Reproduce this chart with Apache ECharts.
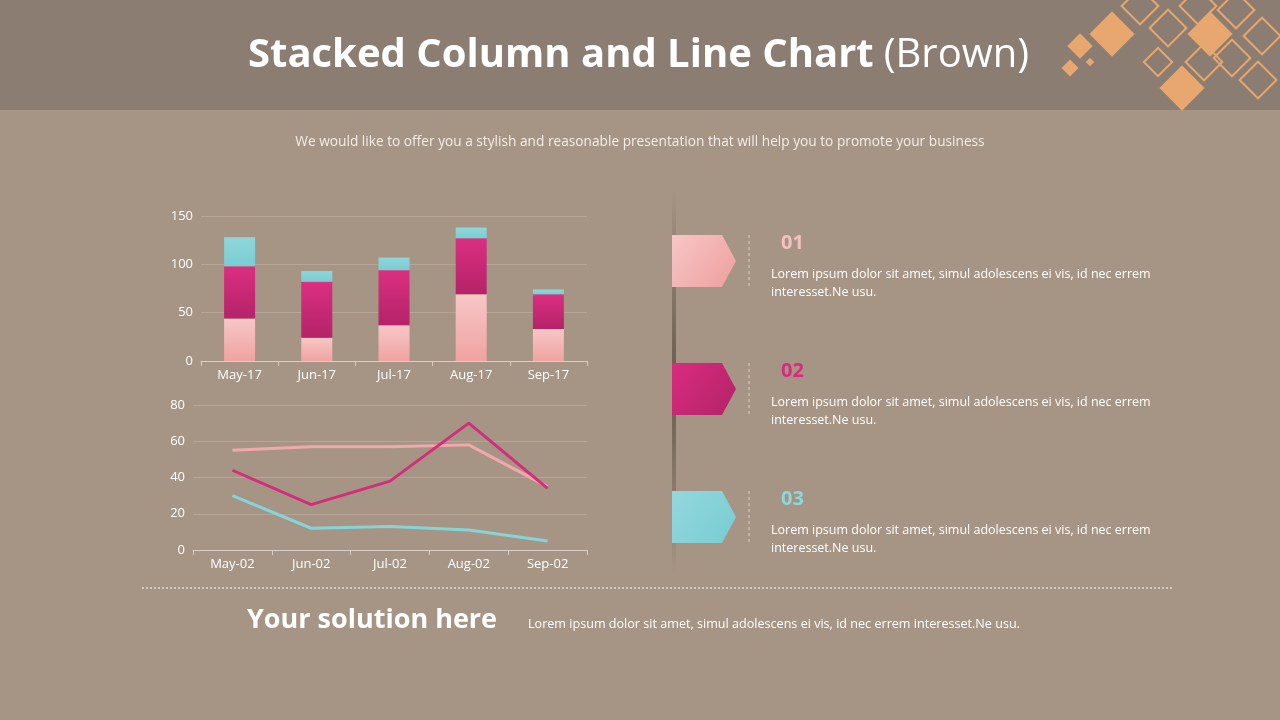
<!DOCTYPE html>
<html>
<head>
<meta charset="utf-8">
<script src="https://cdn.jsdelivr.net/npm/echarts@6/dist/echarts.min.js"></script>
<style>
html,body{margin:0;padding:0;background:#a69585;}
#main{width:1280px;height:720px;}
</style>
</head>
<body>
<div id="main"></div>
<script>
// column chart data
var barMonths = ["May-17", "Jun-17", "Jul-17", "Aug-17", "Sep-17"];
var barPink = [44, 24, 37, 69, 33];
var barMagenta = [54, 58, 57, 58, 36];
var barCyan = [30, 11, 13, 11, 5];
// line chart data
var lineMonths = ["May-02", "Jun-02", "Jul-02", "Aug-02", "Sep-02"];
var linePink = [55, 57, 57, 58, 35];
var lineMagenta = [44, 25, 38, 70, 34];
var lineCyan = [30, 12, 13, 11, 5];

var pinkGrad = new echarts.graphic.LinearGradient(0, 0, 0, 1, [{offset: 0, color: "#f7c7c6"}, {offset: 1, color: "#efa3a2"}]);
var magGrad = new echarts.graphic.LinearGradient(0, 0, 0, 1, [{offset: 0, color: "#db2f82"}, {offset: 1, color: "#b42368"}]);
var cyanGrad = new echarts.graphic.LinearGradient(0, 0, 0, 1, [{offset: 0, color: "#8fd6db"}, {offset: 1, color: "#79cdd3"}]);

var axisText = {color: "#ffffff", fontSize: 13, fontFamily: "Open Sans"};
var lorem = "Lorem ipsum dolor sit amet, simul adolescens ei vis, id nec errem\ninteresset.Ne usu.";

function diamond(cx, cy, s, fill) {
  return {
    type: "rect", x: cx, y: cy, rotation: Math.PI / 4, originX: 0, originY: 0,
    shape: {x: -s / 2, y: -s / 2, width: s, height: s},
    style: fill ? {fill: "#e8a76e"} : {fill: "none", stroke: "#e8a76e", lineWidth: 2}
  };
}

function tag(y, c1, c2, num, numColor) {
  return [
    {type: "polygon", shape: {points: [[672, y], [722, y], [736, y + 26], [722, y + 52], [672, y + 52]]},
      style: {fill: new echarts.graphic.LinearGradient(0, 0, 1, 1, [{offset: 0, color: c1}, {offset: 1, color: c2}])}},
    {type: "line", shape: {x1: 749, y1: y, x2: 749, y2: y + 52}, style: {stroke: "#d9cfc6", lineDash: [3, 3], lineWidth: 1}},
    {type: "text", x: 781, y: y - 2, style: {text: num, fill: numColor, font: "bold 20px 'Open Sans'"}},
    {type: "text", x: 771, y: y + 30, style: {text: lorem, fill: "#ffffff", font: "12.5px 'Open Sans'", lineHeight: 18}}
  ];
}

var graphics = [
  {type: "rect", shape: {x: 0, y: 0, width: 1280, height: 110}, style: {fill: "#8b7d72"}},
  diamond(1112, 34, 32, true), diamond(1210, 34, 32, true), diamond(1182, 88, 32, true),
  diamond(1080, 46, 18, true), diamond(1070, 68, 12, true), diamond(1090, 62, 6, true),
  diamond(1140, 6, 26, false), diamond(1168, 28, 26, false), diamond(1198, 6, 26, false),
  diamond(1236, 10, 26, false), diamond(1262, 36, 26, false), diamond(1232, 58, 26, false),
  diamond(1204, 62, 26, false), diamond(1258, 80, 26, false), diamond(1158, 62, 20, false),
  {type: "text", x: 248, y: 36, style: {
    text: "{b|Stacked Column and Line Chart}{n|(Brown)}",
    rich: {b: {fill: "#fff", font: "bold 40px 'Open Sans'"}, n: {fill: "#fff", font: "40px 'Open Sans'", padding: [0, 0, 0, 10]}}}},
  {type: "text", x: 640, y: 135, style: {text: "We would like to offer you a stylish and reasonable presentation that will help you to promote your business",
    fill: "#f3ede8", font: "13.7px 'Open Sans'", align: "center"}},
  {type: "rect", shape: {x: 672, y: 190, width: 4, height: 385},
    style: {fill: new echarts.graphic.LinearGradient(0, 0, 0, 1, [{offset: 0, color: "rgba(90,75,65,0)"}, {offset: 0.5, color: "rgba(90,75,65,0.8)"}, {offset: 1, color: "rgba(90,75,65,0)"}])}},
  {type: "line", shape: {x1: 142, y1: 588, x2: 1172, y2: 588}, style: {stroke: "#ffffff", lineDash: [2, 2], lineWidth: 1}},
  {type: "text", x: 247, y: 607, style: {text: "Your solution here", fill: "#fff", font: "bold 27px 'Open Sans'"}},
  {type: "text", x: 528, y: 618, style: {text: "Lorem ipsum dolor sit amet, simul adolescens ei vis, id nec errem interesset.Ne usu.", fill: "#fff", font: "12.6px 'Open Sans'"}}
].concat(tag(235, "#f7c6c6", "#ee9f9e", "01", "#f5c0c0"))
 .concat(tag(363, "#d92c80", "#b32367", "02", "#d62c7e"))
 .concat(tag(491, "#94d8dd", "#77ccd2", "03", "#8ad7dc"));

var chart = echarts.init(document.getElementById("main"));
chart.setOption({
  backgroundColor: "#a69585",
  animation: false,
  graphic: graphics,
  grid: [
    {left: 201, top: 216, width: 386, height: 145},
    {left: 193, top: 405, width: 394, height: 145}
  ],
  xAxis: [
    {type: "category", gridIndex: 0, data: barMonths, axisLine: {lineStyle: {color: "#d8cfc7"}},
      axisTick: {show: true, lineStyle: {color: "#d8cfc7"}}, axisLabel: axisText},
    {type: "category", gridIndex: 1, data: lineMonths, boundaryGap: true, axisLine: {lineStyle: {color: "#d8cfc7"}},
      axisTick: {show: true, lineStyle: {color: "#d8cfc7"}}, axisLabel: axisText}
  ],
  yAxis: [
    {type: "value", gridIndex: 0, min: 0, max: 150, interval: 50, axisLabel: axisText,
      splitLine: {lineStyle: {color: "#b5a698"}}},
    {type: "value", gridIndex: 1, min: 0, max: 80, interval: 20, axisLabel: axisText,
      splitLine: {lineStyle: {color: "#b5a698"}}}
  ],
  series: [
    {type: "bar", stack: "a", data: barPink, barWidth: 31, itemStyle: {color: pinkGrad}},
    {type: "bar", stack: "a", data: barMagenta, barWidth: 31, itemStyle: {color: magGrad}},
    {type: "bar", stack: "a", data: barCyan, barWidth: 31, itemStyle: {color: cyanGrad}},
    {type: "line", xAxisIndex: 1, yAxisIndex: 1, data: linePink, symbol: "none", lineStyle: {color: "#f2a8ab", width: 3}},
    {type: "line", xAxisIndex: 1, yAxisIndex: 1, data: lineMagenta, symbol: "none", lineStyle: {color: "#d42d7b", width: 3}},
    {type: "line", xAxisIndex: 1, yAxisIndex: 1, data: lineCyan, symbol: "none", lineStyle: {color: "#86d3d8", width: 3}}
  ]
});
</script>
</body>
</html>
